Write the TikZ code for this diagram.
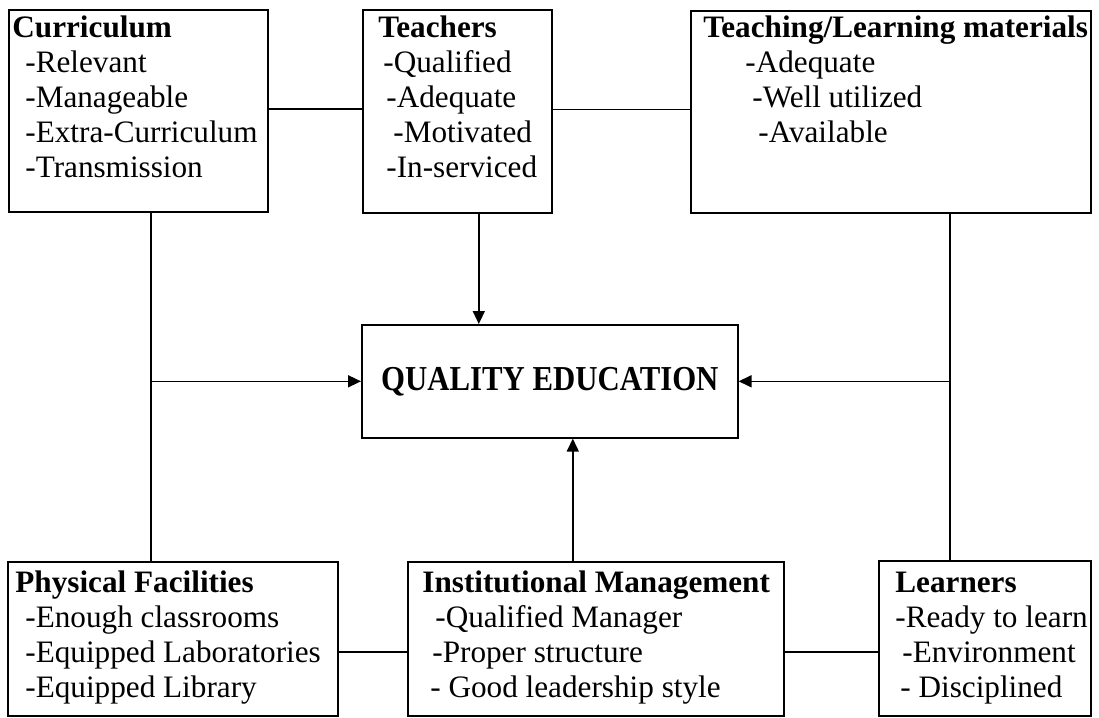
\documentclass[tikz,border=0pt]{standalone}
\usepackage{fontspec}
\setmainfont{Liberation Serif}
\usepackage{graphicx}
\usetikzlibrary{arrows.meta}

\tikzset{
  box/.style={draw,line width=0.8pt,anchor=north west,inner sep=0pt},
  txt/.style={anchor=base west,inner sep=0pt,font=\fontsize{15.6}{17.5}\selectfont},
  arr/.style={-{Triangle[length=6.5pt,width=6pt]},line width=0.8pt}
}
\newcommand{\boxlines}[2]{\begin{tabular}[t]{@{}l@{}}\textbf{#1}\\#2\end{tabular}}

\begin{document}
\begin{tikzpicture}[x=0.5pt,y=-0.5pt]
\useasboundingbox (0,0) rectangle (1099,718);
% Draw top boxes
\node[box,minimum width=129.5pt,minimum height=101pt] (cur) at (8,9) {};
\node[box,minimum width=94.5pt,minimum height=101.5pt] (teach) at (362,9) {};
\node[box,minimum width=200pt,minimum height=101pt] (tlm) at (690,10) {};
% Draw centre box
\node[box,minimum width=188pt,minimum height=56.5pt,
  font=\fontsize{17.5}{20}\selectfont\bfseries] (qe) at (361,324)
  {\scalebox{0.88}[1]{QUALITY EDUCATION}};
% Draw bottom boxes
\node[box,minimum width=165pt,minimum height=77pt] (pf) at (7,561) {};
\node[box,minimum width=188pt,minimum height=77pt] (im) at (407,561) {};
\node[box,minimum width=106pt,minimum height=77.5pt] (lrn) at (878,560) {};
% Draw texts
\node[txt] (curtxt) at (12,37) {\boxlines{Curriculum}{%
  \hspace*{6.5pt}-Relevant\\ \hspace*{6.5pt}-Manageable\\
  \hspace*{6.5pt}-Extra-Curriculum\\ \hspace*{6.5pt}-Transmission}};
\node[txt] (teachtxt) at (378,37) {\boxlines{Teachers}{%
  \hspace*{2.5pt}-Qualified\\ \hspace*{4pt}-Adequate\\
  \hspace*{7.5pt}-Motivated\\ \hspace*{4pt}-In-serviced}};
\node[txt] (tlmtxt) at (703,37) {\boxlines{Teaching/Learning materials}{%
  \hspace*{21pt}-Adequate\\ \hspace*{24.5pt}-Well utilized\\
  \hspace*{27.5pt}-Available}};
\node[txt] (pftxt) at (15,592) {\boxlines{Physical Facilities}{%
  \hspace*{5pt}-Enough classrooms\\ \hspace*{5pt}-Equipped Laboratories\\
  \hspace*{5pt}-Equipped Library}};
\node[txt] (imtxt) at (422,592) {\boxlines{Institutional Management}{%
  \hspace*{6.5pt}-Qualified Manager\\ \hspace*{5pt}-Proper structure\\
  \hspace*{4pt}- Good leadership style}};
\node[txt] (lrntxt) at (895,592) {\boxlines{Learners}{%
  -Ready to learn\\ \hspace*{3.5pt}-Environment\\
  \hspace*{2.5pt}- Disciplined}};
% Draw top links
\draw[line width=0.8pt] ([yshift=1pt]cur.east) -- ([yshift=1pt]cur.east -| teach.west);
\draw[line width=0.8pt] ([yshift=1pt]teach.east) -- ([yshift=1pt]teach.east -| tlm.west);
% Draw side lines
\draw[line width=0.8pt] ([xshift=6.25pt]cur.south) -- ([xshift=6.25pt]cur.south |- pf.north);
\draw[line width=0.8pt] ([xshift=29.5pt]tlm.south) -- ([xshift=29.5pt]tlm.south |- lrn.north);
\coordinate (lj) at ([xshift=6.25pt]cur.south |- qe.west);
\coordinate (rj) at ([xshift=29.5pt]tlm.south |- qe.east);
% Draw arrows
\draw[arr] (lj) -- (qe.west);
\draw[arr] (rj) -- (qe.east);
\draw[arr] ([xshift=10.75pt]teach.south) -- ([xshift=10.75pt]teach.south |- qe.north);
\draw[arr] ([xshift=-11.5pt]im.north) -- ([xshift=-11.5pt]im.north |- qe.south);
% Draw bottom links
\draw[line width=0.8pt] ([yshift=-6.5pt]pf.east) -- ([yshift=-6.5pt]pf.east -| im.west);
\draw[line width=0.8pt] ([yshift=-6.5pt]im.east) -- ([yshift=-6.5pt]im.east -| lrn.west);
\end{tikzpicture}
\end{document}
